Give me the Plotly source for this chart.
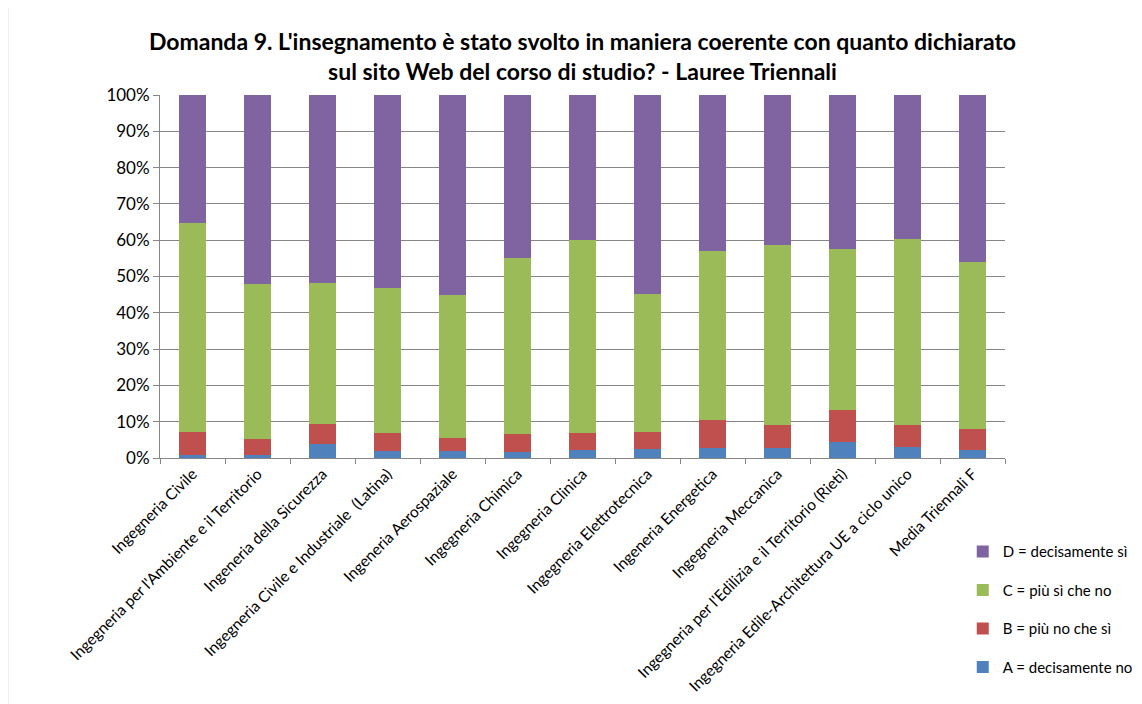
import plotly.graph_objects as go

categories = [
    "Ingegneria Civile",
    "Ingegneria per l'Ambiente e il Territorio",
    "Ingeneria della Sicurezza",
    "Ingegneria Civile e Industriale  (Latina)",
    "Ingeneria Aerospaziale",
    "Ingegneria Chimica",
    "Ingegneria Clinica",
    "Ingegneria Elettrotecnica",
    "Ingeneria Energetica",
    "Ingegneria Meccanica",
    "Ingegneria per l'Edilizia e il Territorio (Rieti)",
    "Ingegneria Edile-Architettura UE a ciclo unico",
    "Media Triennali F",
]

a_vals = [0.9, 0.9, 3.9, 1.85, 2.0, 1.6, 2.3, 2.5, 2.7, 2.7, 4.35, 3.05, 2.2]
b_vals = [6.4, 4.2, 5.5, 5.15, 3.6, 4.9, 4.5, 4.8, 7.7, 6.4, 8.75, 6.05, 5.9]
c_vals = [57.4, 42.8, 38.9, 39.9, 39.2, 48.7, 53.3, 38.0, 46.6, 49.7, 44.4, 51.3, 45.8]
d_vals = [35.3, 52.1, 51.7, 53.1, 55.2, 44.8, 39.9, 54.7, 43.0, 41.2, 42.5, 39.6, 46.1]

series_names = ["A = decisamente no", "B = più no che sì", "C = più sì che no", "D = decisamente sì"]
series_colors = ["#4F81BD", "#C0504D", "#9BBB59", "#8064A2"]
series_values = [a_vals, b_vals, c_vals, d_vals]
legend_ranks = [4, 3, 2, 1]

y_ticks = [0, 10, 20, 30, 40, 50, 60, 70, 80, 90, 100]
y_tick_labels = [f"{t}%" for t in y_ticks]

FONT = "Lato, 'Open Sans', sans-serif"

fig = go.Figure()
for name, color, vals, rank in zip(series_names, series_colors, series_values, legend_ranks):
    fig.add_trace(go.Bar(
        x=categories, y=vals, name=name, legendgroup=name, legendrank=rank,
        marker=dict(color=color, line=dict(width=0)),
    ))

fig.update_layout(
    barmode="stack",
    bargap=0.58,
    width=1142, height=704,
    paper_bgcolor="white", plot_bgcolor="white",
    margin=dict(l=152, r=145, t=87, b=254, autoexpand=False),
    font=dict(family=FONT, size=16, color="#000000"),
    title=dict(
        text="Domanda 9. L'insegnamento è stato svolto in maniera coerente con quanto dichiarato<br>sul sito Web del corso di studio? - Lauree Triennali",
        x=0.5, xanchor="center", xref="paper", y=0.94, yanchor="top",
        font=dict(family=FONT, size=23, color="#000000", weight="bold"),
    ),
    legend=dict(
        traceorder="grouped",
        tracegroupgap=16,
        x=0.95, xanchor="left", y=-0.213, yanchor="top",
        font=dict(family=FONT, size=15, color="#000000"),
        itemwidth=30,
        bgcolor="rgba(0,0,0,0)",
    ),
    showlegend=True,
)

fig.update_xaxes(
    type="category",
    tickangle=-45,
    tickson="boundaries",
    ticks="outside", ticklen=5, tickcolor="#868686",
    showline=True, linecolor="#868686", linewidth=1,
    showgrid=False,
    tickfont=dict(family=FONT, size=15.5, color="#000000"),
)
fig.update_yaxes(
    range=[0, 100],
    tickvals=y_ticks, ticktext=y_tick_labels,
    ticks="outside", ticklen=6, tickcolor="#868686",
    showline=True, linecolor="#868686", linewidth=1,
    showgrid=True, gridcolor="#868686", gridwidth=1,
    zeroline=False,
    tickfont=dict(family=FONT, size=17, color="#000000"),
)

# light frame line at the left edge of the chart area
fig.add_shape(type="line", xref="paper", yref="paper",
              x0=-0.18, x1=-0.18, y0=-0.72, y1=1.27,
              line=dict(color="#D9D9D9", width=1))

fig.write_html("out.html")
